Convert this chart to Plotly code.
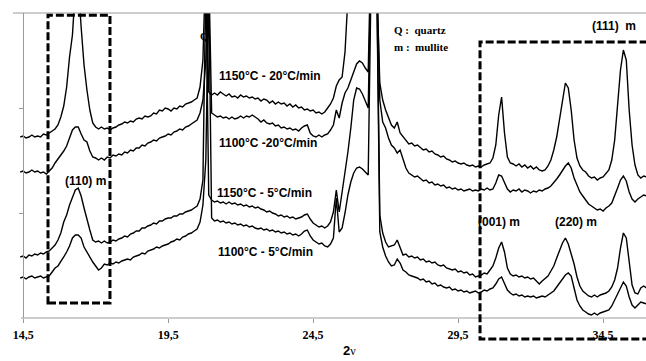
import plotly.graph_objects as go

# Step-scan grid (degrees 2-theta), 0.1 deg step
two_theta = [round(14.4 + 0.1 * i, 1) for i in range(217)]

# Diffracted intensity (a.u.) for each firing schedule
i_1150_20 = [
    181, 182, 180, 181, 183, 181, 182, 181, 184, 183,
    185, 187, 189, 193, 201, 212, 231, 261, 283, 330,
    335, 291, 253, 228, 208, 195, 191, 189, 191, 189,
    190, 188, 190, 191, 193, 194, 196, 195, 197, 196,
    199, 200, 199, 202, 201, 202, 205, 204, 208, 207,
    210, 209, 207, 210, 209, 212, 211, 214, 215, 216,
    218, 220, 231, 258, 360, 226, 223, 225, 223, 226,
    224, 222, 224, 221, 222, 220, 223, 221, 222, 220,
    221, 219, 220, 217, 219, 218, 215, 217, 214, 216,
    214, 215, 212, 214, 211, 213, 210, 211, 208, 209,
    207, 208, 205, 206, 204, 206, 210, 214, 220, 232,
    238, 241, 266, 320, 340, 350, 355, 350, 345, 350,
    380, 420, 400, 330, 235, 218, 208, 201, 193, 190,
    196, 185, 181, 178, 174, 175, 172, 173, 170, 168,
    169, 166, 167, 164, 163, 161, 162, 159, 158, 156,
    157, 155, 154, 155, 153, 152, 153, 151, 152, 151,
    153, 154, 155, 160, 173, 203, 221, 185, 161, 155,
    154, 152, 154, 151, 153, 150, 152, 149, 151, 148,
    147, 148, 152, 158, 168, 181, 200, 220, 235, 230,
    208, 178, 160, 152, 148, 146, 142, 140, 141, 138,
    140, 141, 144, 148, 158, 178, 213, 248, 268, 258,
    208, 173, 153, 143, 140, 142, 141,
]

i_1100_20 = [
    146, 147, 145, 146, 148, 146, 147, 145, 146, 144,
    147, 150, 155, 159, 162, 167, 172, 181, 188, 191,
    191, 184, 178, 176, 167, 161, 160, 158, 160, 158,
    161, 160, 163, 162, 164, 163, 166, 165, 168, 167,
    170, 170, 173, 172, 175, 176, 178, 177, 180, 181,
    182, 184, 183, 186, 187, 189, 188, 191, 192, 194,
    196, 198, 205, 218, 258, 350, 205, 203, 201, 202,
    200, 201, 199, 201, 199, 200, 202, 200, 202, 201,
    203, 201, 199, 196, 198, 195, 194, 195, 192, 193,
    190, 191, 189, 190, 188, 189, 187, 190, 192, 193,
    185, 182, 181, 183, 181, 183, 184, 188, 193, 208,
    200, 215, 225, 230, 238, 245, 254, 257, 255, 250,
    246, 380, 420, 340, 218, 196, 190, 180, 173, 170,
    165, 168, 158, 150, 145, 143, 141, 142, 139, 137,
    138, 135, 136, 133, 134, 132, 133, 130, 131, 129,
    130, 128, 129, 127, 128, 129, 127, 128, 127, 129,
    128, 130, 128, 129, 135, 143, 142, 135, 129, 126,
    128, 127, 129, 126, 128, 127, 125, 127, 126, 128,
    127, 129, 130, 132, 135, 139, 143, 148, 152, 155,
    150, 140, 132, 126, 122, 118, 114, 112, 110, 108,
    109, 107, 110, 112, 115, 122, 130, 138, 142, 137,
    126, 119, 116, 119, 121, 123, 122,
]

i_1150_5 = [
    61, 62, 60, 63, 62, 64, 63, 65, 64, 66,
    67, 70, 73, 78, 85, 96, 103, 113, 121, 128,
    130, 122, 110, 98, 88, 78, 76, 77, 75, 77,
    75, 76, 78, 77, 79, 80, 82, 81, 84, 85,
    87, 87, 90, 90, 92, 93, 95, 94, 97, 97,
    99, 100, 100, 102, 102, 104, 104, 106, 107, 108,
    110, 112, 119, 138, 340, 123, 118, 116, 117, 115,
    116, 114, 116, 114, 115, 113, 114, 112, 113, 111,
    112, 110, 111, 109, 108, 106, 107, 105, 104, 102,
    103, 101, 102, 100, 101, 99, 100, 101, 103, 104,
    99, 95, 93, 91, 92, 90, 92, 96, 106, 128,
    106, 125, 148, 166, 190, 218, 230, 229, 224, 217,
    210, 360, 400, 330, 103, 85, 76, 71, 72, 73,
    78, 70, 63, 64, 61, 62, 60, 61, 58, 59,
    56, 57, 55, 56, 53, 52, 53, 50, 49, 48,
    49, 46, 47, 45, 46, 43, 44, 41, 42, 43,
    45, 44, 48, 52, 60, 70, 76, 66, 50, 44,
    42, 43, 41, 42, 40, 41, 39, 40, 37, 34,
    37, 40, 42, 47, 52, 60, 68, 75, 80, 74,
    64, 54, 41, 32, 27, 24, 22, 21, 23, 21,
    23, 24, 25, 27, 31, 38, 50, 70, 85, 80,
    53, 33, 25, 24, 30, 32, 30,
]

i_1100_5 = [
    40, 41, 39, 41, 42, 40, 41, 42, 40, 41,
    42, 46, 50, 52, 56, 61, 66, 72, 80, 83,
    83, 80, 71, 66, 60, 56, 52, 48, 50, 54,
    53, 55, 54, 56, 55, 57, 58, 59, 58, 61,
    62, 63, 65, 64, 67, 68, 69, 71, 70, 72,
    73, 74, 76, 77, 79, 78, 81, 82, 84, 85,
    87, 89, 96, 113, 158, 330, 100, 97, 98, 96,
    97, 95, 96, 94, 95, 93, 94, 92, 93, 91,
    92, 90, 89, 90, 88, 89, 87, 88, 86, 87,
    85, 86, 84, 85, 83, 84, 82, 84, 87, 88,
    82, 78, 76, 74, 75, 72, 71, 74, 80, 120,
    86, 90, 105, 123, 136, 145, 150, 151, 149, 146,
    143, 340, 390, 320, 86, 71, 62, 56, 52, 53,
    59, 55, 48, 46, 43, 42, 41, 40, 38, 39,
    36, 37, 34, 35, 32, 33, 31, 30, 31, 28,
    29, 27, 28, 26, 27, 25, 26, 27, 25, 26,
    28, 27, 29, 30, 34, 39, 41, 35, 28, 25,
    23, 24, 22, 23, 21, 22, 21, 22, 20, 21,
    22, 21, 23, 25, 27, 31, 35, 39, 43, 45,
    42, 30, 18, 12, 8, 6, 4, 3, 5, 3,
    5, 6, 7, 8, 12, 18, 25, 31, 36, 32,
    21, 13, 10, 13, 16, 15, 14,
]

tick_pos = [14.5, 19.5, 24.5, 29.5, 34.5]
tick_text = ["14,5", "19,5", "24,5", "29,5", "34,5"]

SANS = "Liberation Sans, Arial, sans-serif"
SERIF = "Liberation Serif, Times New Roman, serif"
AXIS_GREY = "#9a9a9a"

fig = go.Figure()
for series in (i_1150_20, i_1100_20, i_1150_5, i_1100_5):
    fig.add_trace(go.Scatter(
        x=two_theta, y=series, mode="lines",
        line=dict(color="black", width=1.4),
        showlegend=False, hoverinfo="skip",
    ))

fig.update_layout(
    width=646, height=361, autosize=False,
    margin=dict(l=13, r=0, t=13, b=43),
    paper_bgcolor="white", plot_bgcolor="white",
    showlegend=False,
    xaxis=dict(
        range=[14.15, 35.98], tickvals=tick_pos, ticktext=tick_text,
        ticks="outside", ticklen=4, tickcolor=AXIS_GREY, tickwidth=1,
        showgrid=False, zeroline=False, showline=False,
        tickfont=dict(family=SERIF, size=12, color="black", weight="bold"),
        ticklabelstandoff=2,
    ),
    yaxis=dict(
        range=[0, 305], anchor="free", position=0.0158,
        tickvals=[105, 210], ticks="outside", ticklen=4,
        tickcolor=AXIS_GREY, showticklabels=False,
        showgrid=False, zeroline=False,
        showline=True, linecolor=AXIS_GREY, linewidth=1,
    ),
)

# axis frame lines
fig.add_shape(type="line", xref="paper", yref="paper", x0=0.0126, x1=1.0,
              y0=0, y1=0, line=dict(color=AXIS_GREY, width=1))
fig.add_shape(type="line", xref="paper", yref="paper", x0=0, x1=1.0,
              y0=1, y1=1, line=dict(color=AXIS_GREY, width=1))

# dashed frames around the mullite reflections
box_line = dict(color="black", width=3, dash="8px,3px")
fig.add_shape(type="rect", xref="paper", yref="paper",
              x0=0.0553, x1=0.1532, y0=0.049, y1=0.993, line=box_line)
fig.add_shape(type="path", xref="paper", yref="paper",
              path="M 1.02,0.905 L 0.7378,0.905 L 0.7378,-0.069 L 1.02,-0.069",
              line=box_line)

def label(text, x, y, family=SANS, size=12, xanchor="left"):
    fig.add_annotation(text=text, x=x, y=y, xref="x", yref="y",
                       xanchor=xanchor, yanchor="middle", showarrow=False,
                       font=dict(family=family, size=size, color="black",
                                 weight="bold"))

label("1150°C - 20°C/min", 21.18, 242)
label("1100°C -20°C/min", 21.18, 175)
label("1150°C - 5°C/min", 21.12, 125)
label("1100°C - 5°C/min", 21.15, 66)
label("(110) m", 15.87, 137)
label("(001) m", 30.12, 96)
label("(220) m", 32.77, 96)
label("(111)\u00a0 m", 34.05, 292)
label("Q :\u00a0 quartz", 27.22, 288, family=SERIF, size=11)
label("m :\u00a0 mullite", 27.22, 271, family=SERIF, size=11)
label("Q", 20.77, 282, family=SERIF, size=11, xanchor="center")

fig.add_annotation(
    text="<b>2</b><span style='font-family:Liberation Serif;font-size:12px'>ν</span>",
    x=0.531, y=-0.106, xref="paper", yref="paper",
    xanchor="center", yanchor="middle", showarrow=False,
    font=dict(family=SANS, size=13, color="black"),
)

fig.write_html("out.html")
